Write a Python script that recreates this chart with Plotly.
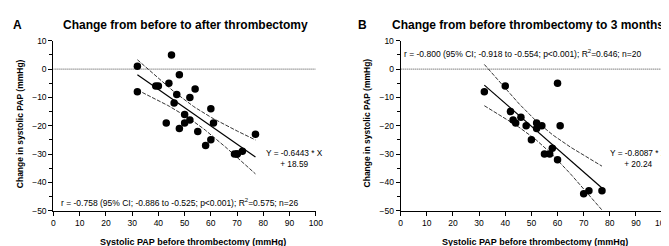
import numpy as np
import plotly.graph_objects as go

# Panel A data
a_x = [32, 32, 45, 48, 44, 39, 40, 54, 47, 52, 46, 60, 50, 61, 43, 50, 52, 48, 55, 58, 60, 69, 70, 70, 72, 77]
a_y = [1, -8, 5, -2, -5, -6, -6, -7, -9, -10, -12, -14, -16, -19, -19, -19, -18, -21, -22, -27, -25, -30, -30, -30, -29, -23]
a_slope, a_int = -0.6443, 18.59
# Panel B data
b_x = [32, 40, 60, 42, 43, 44, 46, 48, 52, 54, 52, 61, 50, 55, 57, 58, 60, 70, 72, 77]
b_y = [-8, -6, -5, -15, -18, -19, -17, -20, -19, -20, -21, -20, -25, -30, -30, -28, -32, -44, -43, -43]
b_slope, b_int = -0.8087, 20.24

titles = ["Change from before to after thrombectomy", "Change from before thrombectomy to 3 months"]
letters = ["A", "B"]
stats = ["r = -0.758 (95% CI; -0.886 to -0.525; p<0.001); R<sup>2</sup>=0.575; n=26",
         "r = -0.800 (95% CI; -0.918 to -0.554; p<0.001); R<sup>2</sup>=0.646; n=20"]
eqs = ["Y = -0.6443 * X<br>+ 18.59", "Y = -0.8087 * X<br>+ 20.24"]
t_crit = [2.064, 2.101]

xtick_vals = list(range(0, 101, 10))
ytick_vals = list(range(-50, 11, 10))

W, H = 669, 246
xdom = [[44 / W, 310 / W], [396 / W, 661 / W]]
ydom = [1 - 206 / H, 1 - 29 / H]

fig = go.Figure()
FONT = "Liberation Sans, Arial, sans-serif"

panels = [(a_x, a_y, a_slope, a_int), (b_x, b_y, b_slope, b_int)]
for i, (px, py, m, c) in enumerate(panels):
    xa = "x" if i == 0 else "x2"
    ya = "y" if i == 0 else "y2"
    x = np.array(px, float)
    y = np.array(py, float)
    n = len(x)
    res = y - (m * x + c)
    s = np.sqrt(np.sum(res ** 2) / (n - 2))
    xbar = x.mean()
    sxx = np.sum((x - xbar) ** 2)
    gx = np.linspace(x.min(), x.max(), 60)
    gy = m * gx + c
    half = t_crit[i] * s * np.sqrt(1 / n + (gx - xbar) ** 2 / sxx)
    # zero line
    fig.add_trace(go.Scatter(x=[0, 100], y=[0, 0], mode="lines", xaxis=xa, yaxis=ya,
                             line=dict(color="#444444", width=1, dash="1px,1px"), showlegend=False, hoverinfo="skip"))
    for band in (gy + half, gy - half):
        fig.add_trace(go.Scatter(x=gx, y=band, mode="lines", xaxis=xa, yaxis=ya,
                                 line=dict(color="black", width=0.8, dash="4px,1.5px"), showlegend=False, hoverinfo="skip"))
    fig.add_trace(go.Scatter(x=gx, y=gy, mode="lines", xaxis=xa, yaxis=ya,
                             line=dict(color="black", width=1.2), showlegend=False, hoverinfo="skip"))
    fig.add_trace(go.Scatter(x=px, y=py, mode="markers", xaxis=xa, yaxis=ya,
                             marker=dict(color="black", size=7.5), showlegend=False))

axis_common = dict(showgrid=False, zeroline=False, showline=True, linecolor="black", linewidth=1.2,
                   ticks="outside", ticklen=4, tickwidth=1, tickcolor="black",
                   tickfont=dict(family=FONT, size=8.5, color="black"))
for i in range(2):
    sx = "xaxis" if i == 0 else "xaxis2"
    sy = "yaxis" if i == 0 else "yaxis2"
    fig.layout[sx] = dict(domain=xdom[i], range=[0, 100], tickvals=xtick_vals, anchor="y" if i == 0 else "y2",
                          **axis_common)
    fig.layout[sy] = dict(domain=ydom, range=[-50, 10], tickvals=ytick_vals, anchor="x" if i == 0 else "x2",
                          minor=dict(dtick=5, tick0=0, ticks="outside", ticklen=3, tickcolor="black", tickwidth=1),
                          **axis_common)

ann = []
title_cx = [178 / W, 525 / W]
letter_x = [8 / W, 357 / W]
ytitle_x = [10 / W, 362 / W]
xtitle_cx = [186 / W, 532 / W]
eq_x = [91.8, 90.8]
for i in range(2):
    xr = "x" if i == 0 else "x2"
    yr = "y" if i == 0 else "y2"
    ann.append(dict(text="<b>%s</b>" % titles[i], x=title_cx[i], y=1 - 12 / H, xref="paper", yref="paper",
                    showarrow=False, font=dict(family=FONT, size=12, color="black"), xanchor="center", yanchor="middle"))
    ann.append(dict(text="<b>%s</b>" % letters[i], x=letter_x[i], y=1 - 12 / H, xref="paper", yref="paper",
                    showarrow=False, font=dict(family=FONT, size=12, color="black"), xanchor="center", yanchor="middle"))
    ann.append(dict(text="<b>Change in systolic PAP (mmHg)</b>", x=ytitle_x[i], y=1 - 115 / H, xref="paper", yref="paper",
                    textangle=-90, showarrow=False, font=dict(family=FONT, size=8.5, color="black"),
                    xanchor="center", yanchor="middle"))
    ann.append(dict(text="<b>Systolic PAP before thrombectomy (mmHg)</b>", x=xtitle_cx[i], y=1 - 239 / H,
                    xref="paper", yref="paper", showarrow=False, font=dict(family=FONT, size=9, color="black"),
                    xanchor="center", yanchor="middle", borderpad=0))
    ann.append(dict(text=eqs[i], x=eq_x[i], y=-31.7, xref=xr, yref=yr, showarrow=False, align="center",
                    font=dict(family=FONT, size=8.3, color="black"), xanchor="center", yanchor="middle"))
ann.append(dict(text=stats[0], x=2.3, y=-47, xref="x", yref="y", showarrow=False,
                font=dict(family=FONT, size=8.5, color="black"), xanchor="left", yanchor="middle"))
ann.append(dict(text=stats[1], x=0.5, y=5.5, xref="x2", yref="y2", showarrow=False,
                font=dict(family=FONT, size=8.5, color="black"), xanchor="left", yanchor="middle"))

fig.update_layout(width=W, height=H, margin=dict(l=0, r=0, t=0, b=0), plot_bgcolor="white",
                  paper_bgcolor="white", annotations=ann, showlegend=False)
fig.write_html("out.html")
